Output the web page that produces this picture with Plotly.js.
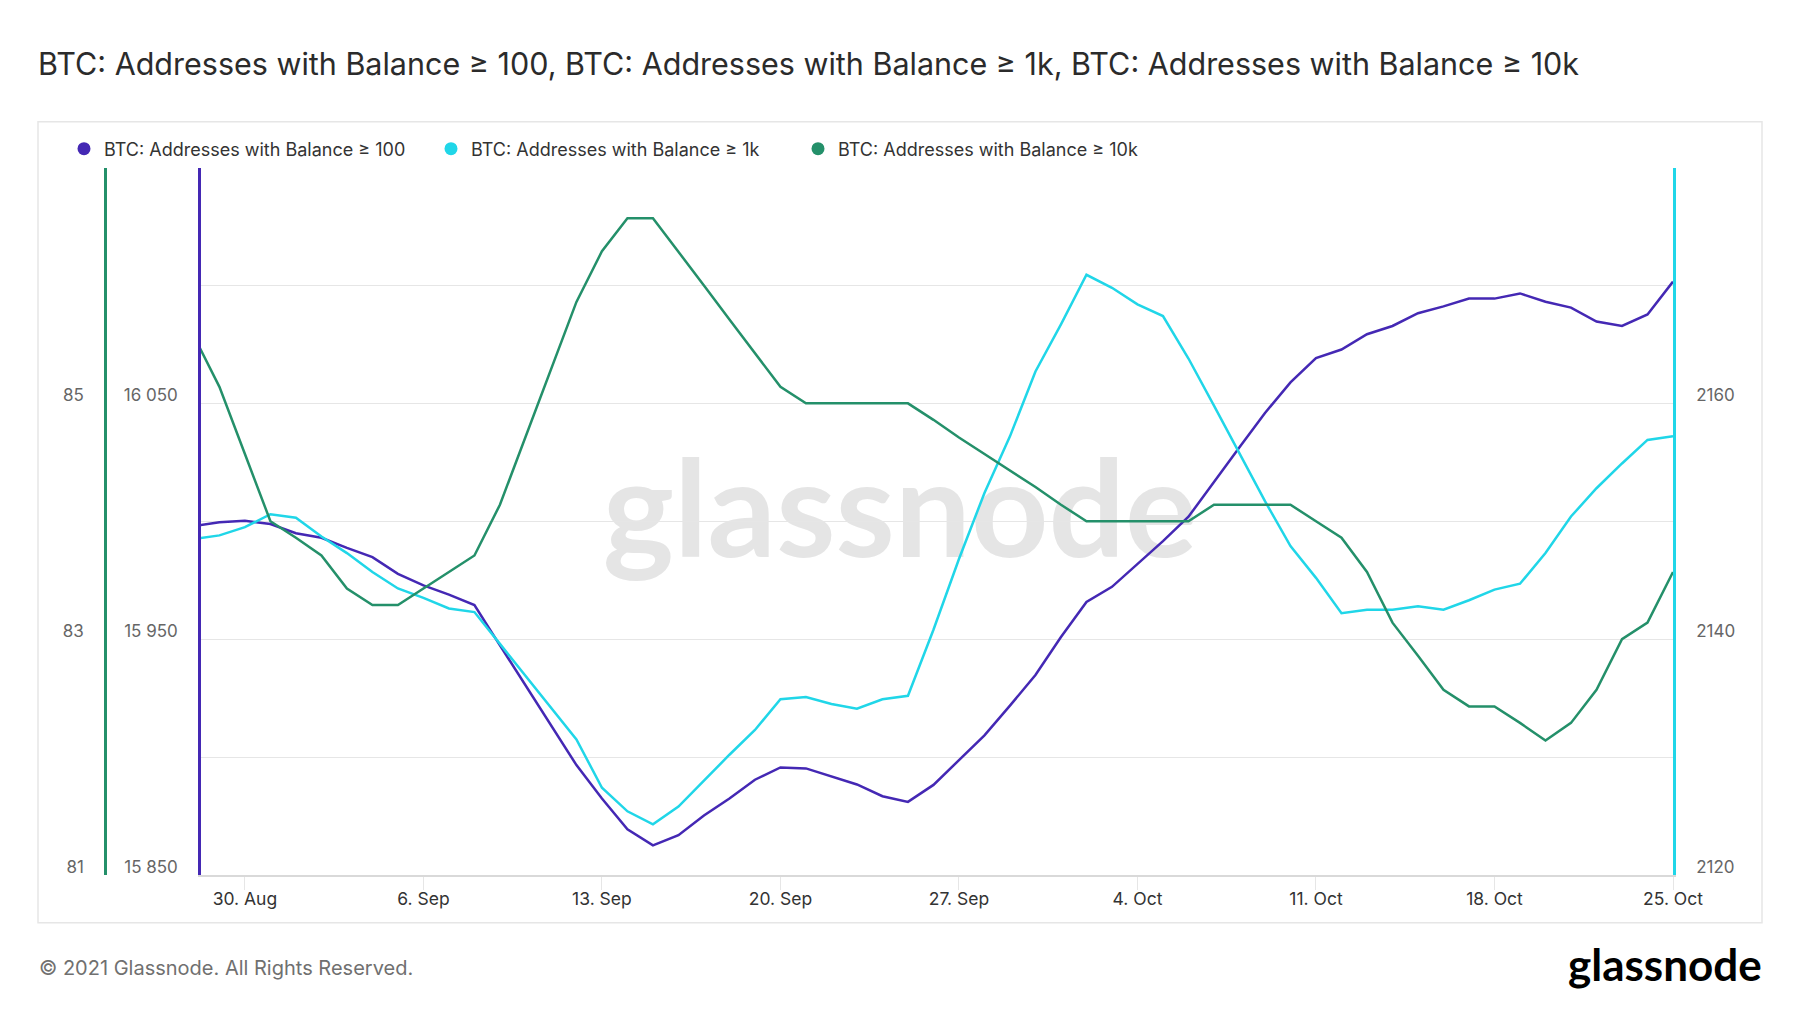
<!DOCTYPE html>
<html>
<head>
<meta charset="utf-8">
<script src="https://cdn.plot.ly/plotly-3.0.1.min.js"></script>
<style>
  html, body { margin: 0; padding: 0; background: #ffffff; }
  #wrap { position: relative; width: 1800px; height: 1013px; overflow: hidden; }
  #watermark {
    position: absolute; left: 0; top: 438px; width: 1800px;
    text-align: center; line-height: 1;
    font-family: Lato, "Open Sans", sans-serif; font-weight: 700;
    font-size: 135px; color: #e5e5e5;
  }
  #chart { position: absolute; left: 0; top: 0; width: 1800px; height: 1013px; }
</style>
</head>
<body>
<div id="wrap">
  <div id="watermark">glassnode</div>
  <div id="chart"></div>
</div>
<script>
// Daily values, 28 Aug - 25 Oct 2021
const dates = [
    '2021-08-28', '2021-08-29', '2021-08-30', '2021-08-31',
    '2021-09-01', '2021-09-02', '2021-09-03', '2021-09-04', '2021-09-05', '2021-09-06', '2021-09-07',
    '2021-09-08', '2021-09-09', '2021-09-10', '2021-09-11', '2021-09-12', '2021-09-13', '2021-09-14',
    '2021-09-15', '2021-09-16', '2021-09-17', '2021-09-18', '2021-09-19', '2021-09-20', '2021-09-21',
    '2021-09-22', '2021-09-23', '2021-09-24', '2021-09-25', '2021-09-26', '2021-09-27', '2021-09-28',
    '2021-09-29', '2021-09-30', '2021-10-01', '2021-10-02', '2021-10-03', '2021-10-04', '2021-10-05',
    '2021-10-06', '2021-10-07', '2021-10-08', '2021-10-09', '2021-10-10', '2021-10-11', '2021-10-12',
    '2021-10-13', '2021-10-14', '2021-10-15', '2021-10-16', '2021-10-17', '2021-10-18', '2021-10-19',
    '2021-10-20', '2021-10-21', '2021-10-22', '2021-10-23', '2021-10-24', '2021-10-25'
];

// Addresses with balance >= 100 BTC
const balance100 = [
    15998.0, 15999.6, 16000.2, 15998.8,
    15994.9, 15993.0, 15988.7, 15984.8, 15977.7, 15972.8, 15968.9,
    15964.5, 15947.4, 15930.5, 15913.6, 15896.6, 15882.4, 15869.4,
    15862.6, 15866.9, 15875.2, 15882.4, 15890.4, 15895.6, 15895.2,
    15891.7, 15888.4, 15883.4, 15881.0, 15888.2, 15898.5, 15909.2,
    15921.8, 15934.8, 15950.9, 15965.8, 15972.2, 15981.9, 15991.6,
    16001.9, 16016.8, 16031.4, 16045.9, 16058.9, 16069.2, 16072.8,
    16079.3, 16082.8, 16088.2, 16091.1, 16094.4, 16094.4, 16096.6,
    16093.1, 16090.6, 16084.7, 16082.8, 16087.7, 16101.6
];

// Addresses with balance >= 1k BTC
const balance1k = [
    2148.5, 2148.8, 2149.5, 2150.6,
    2150.3, 2148.7, 2147.3, 2145.7, 2144.3, 2143.5, 2142.6,
    2142.3, 2139.6, 2136.9, 2134.2, 2131.5, 2127.4, 2125.4,
    2124.3, 2125.8, 2128.0, 2130.2, 2132.3, 2134.9, 2135.1,
    2134.5, 2134.1, 2134.9, 2135.2, 2140.8, 2146.8, 2152.4,
    2157.2, 2162.7, 2166.7, 2170.9, 2169.8, 2168.4, 2167.4,
    2163.8, 2159.8, 2155.7, 2151.7, 2147.9, 2145.2, 2142.2,
    2142.5, 2142.5, 2142.8, 2142.5, 2143.3, 2144.2, 2144.7,
    2147.3, 2150.4, 2152.8, 2154.9, 2156.9, 2157.2
];

// Addresses with balance >= 10k BTC
const balance10k = [
    85.57, 85.14, 84.57, 84.00,
    83.86, 83.71, 83.43, 83.29, 83.29, 83.43, 83.57,
    83.71, 84.14, 84.71, 85.29, 85.86, 86.29, 86.57,
    86.57, 86.29, 86.00, 85.71, 85.43, 85.14, 85.00,
    85.00, 85.00, 85.00, 85.00, 84.86, 84.71, 84.57,
    84.43, 84.29, 84.14, 84.00, 84.00, 84.00, 84.00,
    84.00, 84.14, 84.14, 84.14, 84.14, 84.00, 83.86,
    83.57, 83.14, 82.86, 82.57, 82.43, 82.43, 82.29,
    82.14, 82.29, 82.57, 83.00, 83.14, 83.57
];

const seriesNames = [
    'BTC: Addresses with Balance ≥ 100',
    'BTC: Addresses with Balance ≥ 1k',
    'BTC: Addresses with Balance ≥ 10k'
];

// Axis ticks (labels on every second gridline)
const ticks100 = [15850, 15900, 15950, 16000, 16050, 16100, 16150];
const tickText100 = ['15 850', '', '15 950', '', '16 050', '', ''];
const ticks1k = [2120, 2130, 2140, 2150, 2160, 2170, 2180];
const tickText1k = ['2120', '', '2140', '', '2160', '', ''];
const ticks10k = [81, 82, 83, 84, 85, 86, 87];
const tickText10k = ['81', '', '83', '', '85', '', ''];

const COLORS = ['#4428b4', '#20d6e8', '#24906a'];
const FONT = 'Inter, "Noto Sans", sans-serif';

const W = 1800, H = 1013;
const M = { l: 90, r: 127, t: 164, b: 138 };
const plotW = W - M.l - M.r;
const plotH = H - M.t - M.b;
// pixel -> paper helpers
const px = (x) => (x - M.l) / plotW;
const py = (y) => (H - M.b - y) / plotH;

const lineTraces = [balance100, balance1k, balance10k].map((vals, i) => ({
    x: dates,
    y: vals,
    name: seriesNames[i],
    type: 'scatter',
    mode: 'lines',
    yaxis: ['y', 'y2', 'y3'][i],
    line: { color: COLORS[i], width: 2.5 },
    showlegend: false,
    hoverinfo: 'skip'
}));

// legend entries drawn as dots
const legendTraces = seriesNames.map((name, i) => ({
    x: [null],
    y: [null],
    name: name,
    type: 'scatter',
    mode: 'markers',
    yaxis: ['y', 'y2', 'y3'][i],
    marker: { color: COLORS[i], size: 13 },
    showlegend: true
}));

const yCommon = {
    showgrid: false,
    zeroline: false,
    ticks: '',
    showline: true,
    linewidth: 2.5,
    ticklabelstandoff: 17,
    ticklabelshift: -8,
    tickfont: { family: FONT, size: 17, color: '#666666' },
    fixedrange: true
};

const layout = {
    width: W,
    height: H,
    autosize: false,
    margin: M,
    paper_bgcolor: 'rgba(0,0,0,0)',
    plot_bgcolor: 'rgba(0,0,0,0)',
    font: { family: FONT, color: '#333333' },
    title: {
        text: seriesNames.join(', '),
        xref: 'container',
        yref: 'container',
        x: 38 / W,
        y: 1 - 64 / H,
        xanchor: 'left',
        yanchor: 'middle',
        font: { family: FONT, size: 30.5, color: '#2b2b2b' }
    },
    showlegend: true,
    legend: {
        orientation: 'h',
        xref: 'container',
        yref: 'container',
        x: 64 / W,
        y: 1 - 149 / H,
        xanchor: 'left',
        yanchor: 'middle',
        font: { family: FONT, size: 18, color: '#333333' },
        bgcolor: 'rgba(0,0,0,0)',
        itemwidth: 30,
        entrywidth: 322
    },
    xaxis: {
        type: 'date',
        domain: [px(201), 1],
        range: ['2021-08-28 06:40', '2021-10-25 00:00'],
        tick0: '2021-08-30',
        dtick: 7 * 24 * 3600 * 1000,
        tickformat: '%-d. %b',
        ticks: 'outside',
        ticklen: 13,
        tickwidth: 1,
        tickcolor: '#e6e6e6',
        ticklabelstandoff: -6,
        showgrid: false,
        zeroline: false,
        showline: true,
        linecolor: '#d9d9d9',
        linewidth: 1.5,
        tickfont: { family: FONT, size: 17.5, color: '#333333' },
        fixedrange: true
    },
    yaxis: Object.assign({}, yCommon, {
        range: [15850, 16150],
        tickvals: ticks100,
        ticktext: tickText100,
        showgrid: true,
        gridcolor: '#e6e6e6',
        gridwidth: 1,
        linecolor: COLORS[0],
        side: 'left',
        anchor: 'x'
    }),
    yaxis2: Object.assign({}, yCommon, {
        range: [2120, 2180],
        tickvals: ticks1k,
        ticktext: tickText1k,
        linecolor: COLORS[1],
        side: 'right',
        anchor: 'x',
        overlaying: 'y'
    }),
    yaxis3: Object.assign({}, yCommon, {
        range: [81, 87],
        tickvals: ticks10k,
        ticktext: tickText10k,
        linecolor: COLORS[2],
        side: 'left',
        anchor: 'free',
        position: px(105),
        overlaying: 'y'
    }),
    shapes: [{
        // chart card border
        type: 'rect',
        xref: 'paper',
        yref: 'paper',
        x0: px(38),
        x1: px(1762),
        y0: py(923),
        y1: py(118),
        line: { color: '#e6e6e6', width: 1.5 },
        layer: 'below'
    }],
    annotations: [
        {
            text: '© 2021 Glassnode. All Rights Reserved.',
            xref: 'paper',
            yref: 'paper',
            x: px(37),
            y: py(968),
            xanchor: 'left',
            yanchor: 'middle',
            showarrow: false,
            font: { family: FONT, size: 20, color: '#707070' }
        },
        {
            text: '<b>glassnode</b>',
            xref: 'paper',
            yref: 'paper',
            x: px(1764),
            y: py(964),
            xanchor: 'right',
            yanchor: 'middle',
            showarrow: false,
            font: { family: 'Lato, "Open Sans", sans-serif', size: 44, color: '#000000' }
        }
    ]
};

Plotly.newPlot('chart', lineTraces.concat(legendTraces), layout, {
    displayModeBar: false,
    responsive: false
});
</script>
</body>
</html>
